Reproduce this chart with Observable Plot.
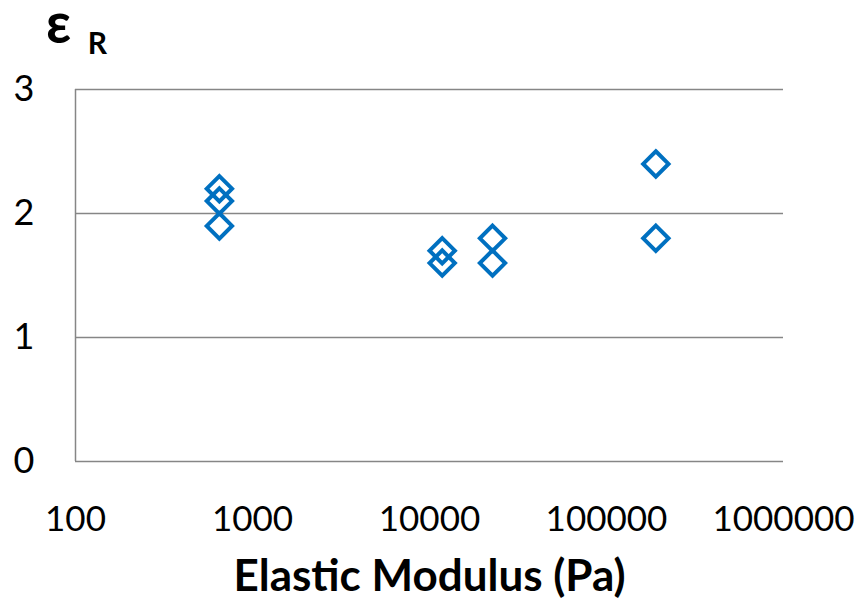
<!DOCTYPE html>
<html><head><meta charset="utf-8">
<script src="https://cdn.jsdelivr.net/npm/d3@7"></script>
<script src="https://cdn.jsdelivr.net/npm/@observablehq/plot@0.6"></script>
<style>body{margin:0;background:#fff;}</style>
</head><body><div id="chart"></div>
<script>
const modulus = [650, 650, 650, 11800, 11800, 22700, 22700, 190000, 190000];
const epsilonR = [2.2, 2.1, 1.9, 1.7, 1.6, 1.8, 1.6, 2.4, 1.8];
const xTicks = [100, 1000, 10000, 100000, 1000000];
const yTicks = [0, 1, 2, 3];
const gridValues = [1, 2, 3];
const xTitle = "Elastic Modulus (Pa)";
const yTitleMain = "ε";
const yTitleSub = "R";

const data = modulus.map((m, i) => ({m, e: epsilonR[i]}));
const gray = "#868686";
const font = "Lato, Calibri, 'Open Sans', sans-serif";

const chart = Plot.plot({
  width: 860, height: 602,
  marginLeft: 75, marginRight: 77, marginTop: 89, marginBottom: 141,
  style: {fontFamily: font, color: "#000", background: "#fff", overflow: "visible"},
  x: {type: "log", domain: [100, 1000000]},
  y: {domain: [0, 3]},
  marks: [
    Plot.ruleY(gridValues, {stroke: gray, strokeWidth: 1.5, strokeOpacity: 1}),
    Plot.ruleY([0], {stroke: gray, strokeWidth: 1.5, strokeOpacity: 1}),
    Plot.ruleX([100], {stroke: gray, strokeWidth: 1.5, strokeOpacity: 1}),
    Plot.axisY({ticks: yTicks, tickSize: 0, tickPadding: 41, label: null, fontSize: 36, tickFormat: d3.format("d")}),
    Plot.axisX({ticks: xTicks, tickSize: 0, tickPadding: 45, label: null, fontSize: 35, tickFormat: d3.format("d")}),
    Plot.dot(data, {x: "m", y: "e", symbol: "diamond2", r: 11.4, stroke: "#0070C0", strokeWidth: 4, fill: "none"}),
    Plot.text([xTitle], {frameAnchor: "bottom", textAnchor: "middle", lineAnchor: "middle", dy: 115, fontWeight: "bold", fontSize: 44, fill: "#000"}),
    Plot.text([yTitleMain], {frameAnchor: "top-left", textAnchor: "middle", lineAnchor: "middle", dx: -17, dy: -64, fontWeight: "bold", fontSize: 55, fill: "#000"}),
    Plot.text([yTitleSub], {frameAnchor: "top-left", textAnchor: "middle", lineAnchor: "middle", dx: 22, dy: -45, fontWeight: "bold", fontSize: 30, fill: "#000"})
  ]
});
document.getElementById("chart").append(chart);
</script>
</body></html>
